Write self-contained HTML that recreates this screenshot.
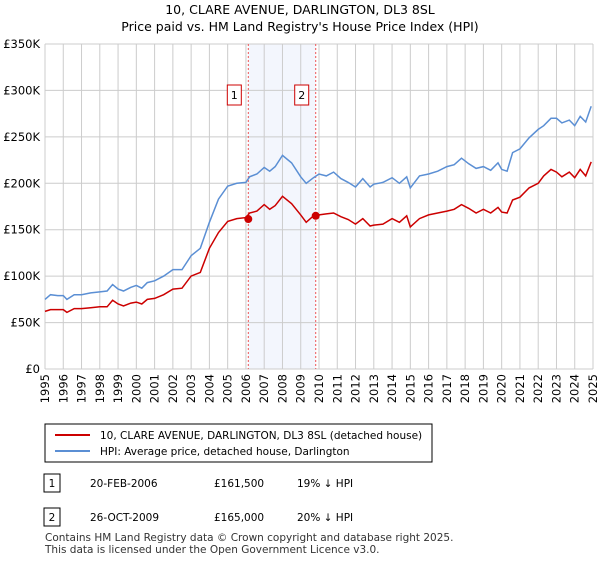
<!DOCTYPE html>
<html><head><meta charset="utf-8"><style>
body{margin:0;background:#fff;font-family:"Liberation Sans","DejaVu Sans",sans-serif;}
svg text{font-family:"DejaVu Sans","Liberation Sans",sans-serif;}
</style></head><body>
<svg id="c" width="600" height="560" xmlns="http://www.w3.org/2000/svg">
<text x="300" y="14" text-anchor="middle" font-size="12.5">10, CLARE AVENUE, DARLINGTON, DL3 8SL</text>
<text x="300" y="31" text-anchor="middle" font-size="12.5">Price paid vs. HM Land Registry's House Price Index (HPI)</text>
<g id="grid"></g><g id="series"></g><g id="axes"></g>
<rect x="45" y="424" width="387" height="38" fill="#fff" stroke="#000"/>
<line x1="55" y1="435" x2="90" y2="435" stroke="#cc0000" stroke-width="2"/>
<text x="100" y="439" font-size="10.5">10, CLARE AVENUE, DARLINGTON, DL3 8SL (detached house)</text>
<line x1="55" y1="451" x2="90" y2="451" stroke="#5b8fd4" stroke-width="2"/>
<text x="100" y="455" font-size="10.5">HPI: Average price, detached house, Darlington</text>
<rect x="44" y="474" width="16" height="18" fill="#fff" stroke="#000"/>
<text x="52" y="487" text-anchor="middle" font-size="10.5">1</text>
<text x="90" y="487" font-size="10.5">20-FEB-2006</text>
<text x="214" y="487" font-size="10.5">£161,500</text>
<text x="297" y="487" font-size="10.5">19% ↓ HPI</text>
<rect x="44" y="508" width="16" height="18" fill="#fff" stroke="#000"/>
<text x="52" y="521" text-anchor="middle" font-size="10.5">2</text>
<text x="90" y="521" font-size="10.5">26-OCT-2009</text>
<text x="214" y="521" font-size="10.5">£165,000</text>
<text x="297" y="521" font-size="10.5">20% ↓ HPI</text>
<text x="45" y="541" font-size="10.5" fill="#333">Contains HM Land Registry data © Crown copyright and database right 2025.</text>
<text x="45" y="553" font-size="10.5" fill="#333">This data is licensed under the Open Government Licence v3.0.</text>
</svg>
<script>
const hpiYears=[1995,1995.3,1995.7,1996,1996.2,1996.6,1997,1997.5,1998,1998.4,1998.7,1999,1999.3,1999.7,2000,2000.3,2000.6,2001,2001.5,2002,2002.5,2003,2003.5,2004,2004.5,2005,2005.5,2006,2006.2,2006.6,2007,2007.3,2007.6,2008,2008.5,2009,2009.3,2009.7,2010,2010.4,2010.8,2011.2,2011.6,2012,2012.4,2012.8,2013,2013.5,2014,2014.4,2014.8,2015,2015.5,2016,2016.5,2017,2017.4,2017.8,2018.2,2018.6,2019,2019.4,2019.8,2020,2020.3,2020.6,2021,2021.5,2022,2022.3,2022.7,2023,2023.3,2023.7,2024,2024.3,2024.6,2024.9];
const hpiValues=[75,80,79,79,75,80,80,82,83,84,91,86,84,88,90,87,93,95,100,107,107,122,130,158,183,197,200,201,207,210,217,213,218,230,222,207,200,206,210,208,212,205,201,196,205,196,199,201,206,200,207,195,208,210,213,218,220,227,221,216,218,214,222,215,213,233,237,249,258,262,270,270,265,268,262,272,266,283];
const priceYears=hpiYears;
const priceValues=[62,64,64,64,61,65,65,66,67,67,74,70,68,71,72,70,75,76,80,86,87,100,104,130,147,159,162,163,168,170,177,172,176,186,178,166,158,165,166,167,168,164,161,156,162,154,155,156,162,158,165,153,162,166,168,170,172,177,173,168,172,168,174,169,168,182,185,195,200,208,215,212,207,212,206,215,208,223];
const saleYears=[2006.13,2009.82];
const saleValues=[161.5,165];
const yTicks=[0,50,100,150,200,250,300,350];
const yTickLabels=["£0","£50K","£100K","£150K","£200K","£250K","£300K","£350K"];
const xTicks=[1995,1996,1997,1998,1999,2000,2001,2002,2003,2004,2005,2006,2007,2008,2009,2010,2011,2012,2013,2014,2015,2016,2017,2018,2019,2020,2021,2022,2023,2024,2025];
const NS="http://www.w3.org/2000/svg";
const X=y=>45+(y-1995)*(548/30), Y=v=>369-v*(325/350);
function mk(p,t,a){const e=document.createElementNS(NS,t);for(const k in a)e.setAttribute(k,a[k]);document.getElementById(p).appendChild(e);return e;}
let sh=mk('grid','rect',{x:X(saleYears[0]),y:44,width:X(saleYears[1])-X(saleYears[0]),height:325,fill:'#f3f6fd'});


yTicks.forEach((t,i)=>{
 let l=mk('grid','line',{x1:45,x2:593,y1:Y(t),y2:Y(t),stroke:'#ccc'});
 
 
 let tx=mk('axes','text',{x:40,y:Y(t)+4,'text-anchor':'end','font-size':11.5});
 
 
 tx.textContent=yTickLabels[i];
});
xTicks.forEach(t=>{
 let l=mk('grid','line',{x1:X(t),x2:X(t),y1:44,y2:369,stroke:'#ccc'});
 
 
 let tx=mk('axes','text',{x:0,y:0,'text-anchor':'end','font-size':11.5,transform:`translate(${X(t)+4},374) rotate(-90)`});
 
 
 tx.textContent=t;
});
saleYears.forEach((s,i)=>{
 let l=mk('grid','line',{x1:X(s),x2:X(s),y1:44,y2:369,stroke:'#e55','stroke-dasharray':'2,2'});
 
 
 let r=mk('axes','rect',{x:X(s)-21,y:85,width:14,height:20,fill:'#fff',stroke:'#c00'});
 
 
 let tx=mk('axes','text',{x:X(s)-14,y:99,'text-anchor':'middle','font-size':11});
 
 
 tx.textContent=i+1;
});
function line(xs,vs,c,n){const d=xs.map((x,i)=>(i?'L':'M')+X(x).toFixed(1)+','+Y(vs[i]).toFixed(1)).join('');
 let p=mk('series','path',{d:d,fill:'none',stroke:c,'stroke-width':1.5});
 
 }
line(hpiYears,hpiValues,'#5b8fd4','hpi-line');
line(priceYears,priceValues,'#cc0000','price-line');
saleYears.forEach((s,i)=>{let c=mk('series','circle',{cx:X(s),cy:Y(saleValues[i]),r:4,fill:'#cc0000'});
 
 });
</script>
</body></html>
